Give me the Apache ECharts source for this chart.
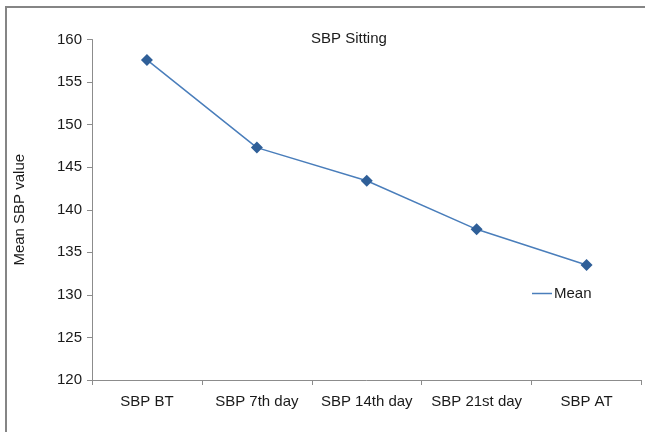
<!DOCTYPE html>
<html>
<head>
<meta charset="utf-8">
<script src="https://cdn.jsdelivr.net/npm/echarts@6/dist/echarts.min.js"></script>
<style>
html,body{margin:0;padding:0;background:#fff;overflow:hidden;}
#chart{width:645px;height:432px;}
</style>
</head>
<body>
<div id="chart"></div>
<script>
var categories = ['SBP BT', 'SBP 7th day', 'SBP 14th day', 'SBP 21st day', 'SBP AT'];
var meanValues = [157.6, 147.3, 143.4, 137.7, 133.5];
var seriesName = 'Mean';
var chartTitle = 'SBP Sitting';
var yAxisTitle = 'Mean SBP value';

var FONT = '"Liberation Sans", Arial, sans-serif';
var chart = echarts.init(document.getElementById('chart'), null, {renderer: 'canvas'});
chart.setOption({
  animation: false,
  backgroundColor: '#ffffff',
  graphic: [{
    type: 'rect',
    silent: true,
    shape: {x: 6, y: 7, width: 700, height: 500},
    style: {fill: 'none', stroke: '#858585', lineWidth: 2}
  }],
  title: {
    text: chartTitle,
    left: 311,
    top: 31,
    padding: 0,
    textStyle: {fontFamily: FONT, fontSize: 15, fontWeight: 'normal', color: '#1a1a1a'}
  },
  legend: {
    data: [{name: seriesName, icon: 'rect'}],
    left: 532,
    top: 286,
    padding: 0,
    itemWidth: 20,
    itemHeight: 1.5,
    itemStyle: {color: '#4a7ebb', borderWidth: 0},
    textStyle: {fontFamily: FONT, fontSize: 15, color: '#1a1a1a', padding: [0, 0, 0, -3]}
  },
  grid: {left: 92, right: 3.5, top: 39.5, bottom: 52, containLabel: false},
  xAxis: {
    type: 'category',
    data: categories,
    boundaryGap: true,
    axisLine: {show: true, lineStyle: {color: '#8c8c8c', width: 1}},
    axisTick: {show: true, length: 5, lineStyle: {color: '#8c8c8c'}},
    axisLabel: {fontFamily: FONT, fontSize: 15, color: '#1a1a1a', margin: 14, interval: 0},
    splitLine: {show: false}
  },
  yAxis: {
    type: 'value',
    min: 120,
    max: 160,
    interval: 5,
    name: yAxisTitle,
    nameLocation: 'middle',
    nameGap: 65,
    nameRotate: 90,
    nameTextStyle: {fontFamily: FONT, fontSize: 15, color: '#1a1a1a'},
    axisLine: {show: true, lineStyle: {color: '#8c8c8c', width: 1}},
    axisTick: {show: true, length: 5, lineStyle: {color: '#8c8c8c'}},
    axisLabel: {fontFamily: FONT, fontSize: 15, color: '#1a1a1a', margin: 10},
    splitLine: {show: false}
  },
  series: [{
    name: seriesName,
    type: 'line',
    data: meanValues,
    symbol: 'diamond',
    symbolSize: 12,
    itemStyle: {color: '#2f5f98'},
    lineStyle: {color: '#4a7ebb', width: 1.5}
  }]
});
</script>
</body>
</html>
